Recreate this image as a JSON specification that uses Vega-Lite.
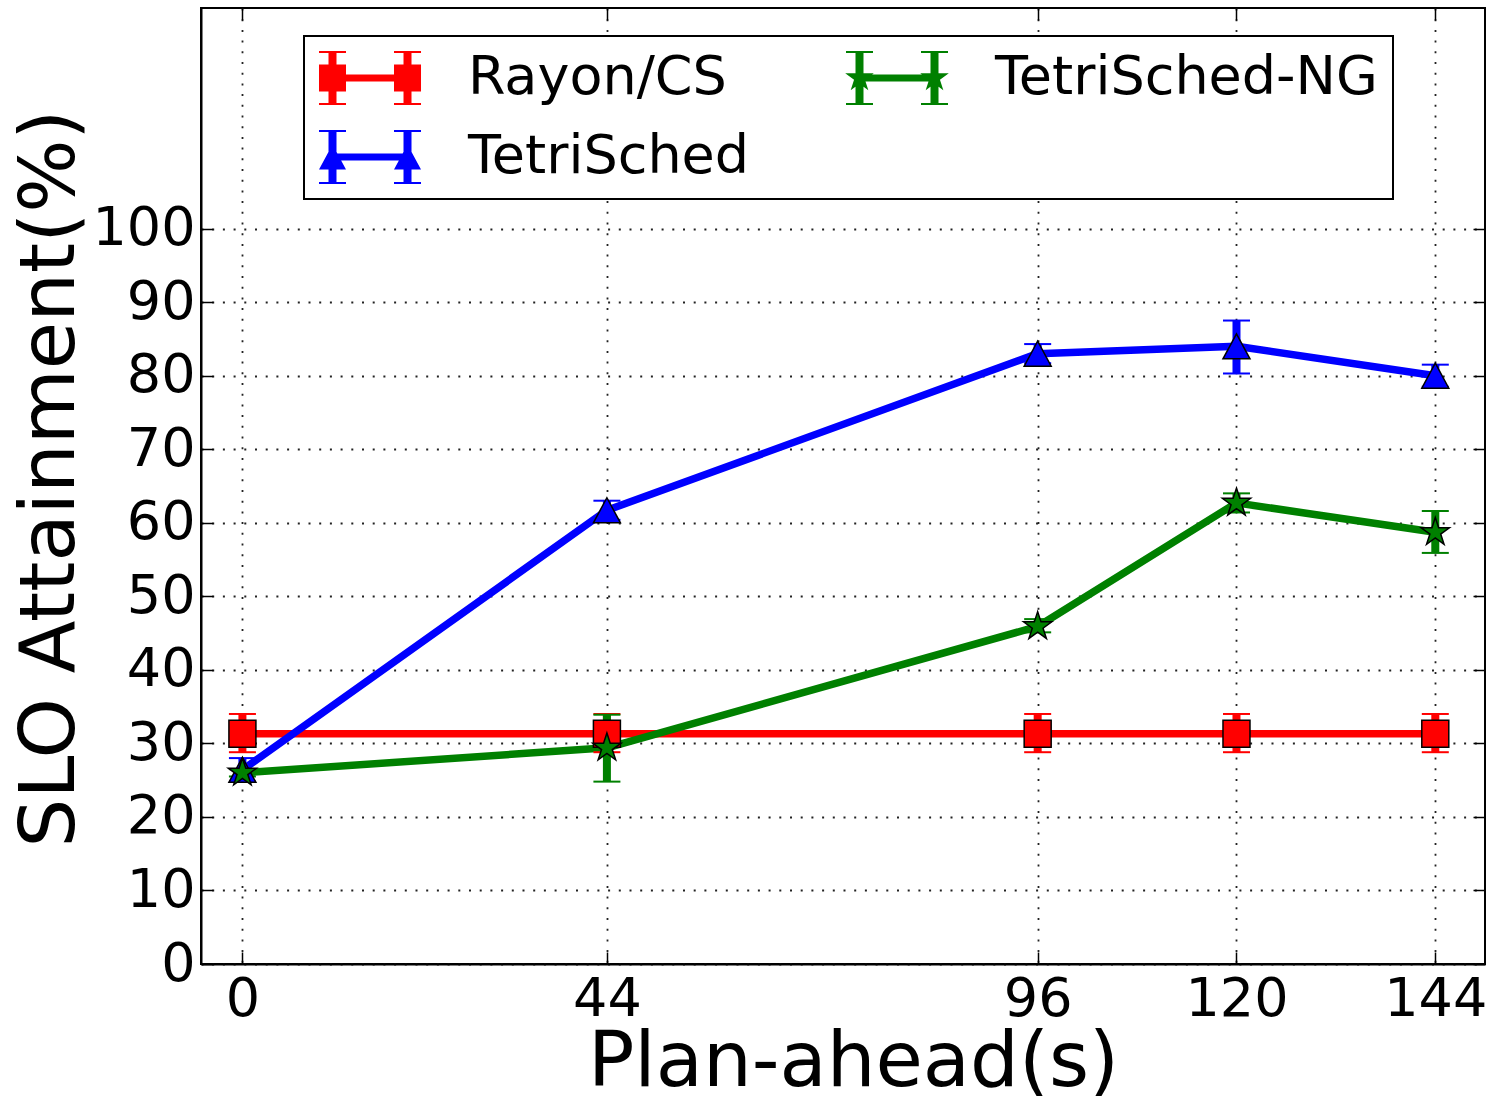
{
  "$schema": "https://vega.github.io/schema/vega-lite/v6.json",
  "width": 1284,
  "height": 956,
  "autosize": "none",
  "padding": {"left": 201, "top": 8, "right": 12, "bottom": 132},
  "background": "white",
  "config": {
    "view": {"stroke": "black", "strokeWidth": 2},
    "legend": {"symbolOpacity": 1, "strokeWidth": 2},
    "axis": {
      "labelFont": "DejaVu Sans", "labelFontSize": 54, "labelColor": "black",
      "titleFont": "DejaVu Sans", "titleFontSize": 77, "titleFontWeight": "normal", "titleColor": "black",
      "domainColor": "black", "domainWidth": 2,
      "tickColor": "black", "tickWidth": 1.5, "tickSize": -12,
      "gridColor": "#222222", "gridDash": [2, 8.7], "gridWidth": 1.8, "gridOpacity": 1,
      "zindex": 1
    }
  },
  "data": {"values": [
    {"plan": 0, "series": "Rayon/CS", "v": 31.3, "lo": 28.8, "hi": 34.0},
    {"plan": 44, "series": "Rayon/CS", "v": 31.3, "lo": 28.8, "hi": 34.0},
    {"plan": 96, "series": "Rayon/CS", "v": 31.3, "lo": 28.8, "hi": 34.0},
    {"plan": 120, "series": "Rayon/CS", "v": 31.3, "lo": 28.8, "hi": 34.0},
    {"plan": 144, "series": "Rayon/CS", "v": 31.3, "lo": 28.8, "hi": 34.0},
    {"plan": 0, "series": "TetriSched", "v": 26.4, "lo": 24.8, "hi": 28.0},
    {"plan": 44, "series": "TetriSched", "v": 61.7, "lo": 60.4, "hi": 63.0},
    {"plan": 96, "series": "TetriSched", "v": 83.0, "lo": 81.7, "hi": 84.3},
    {"plan": 120, "series": "TetriSched", "v": 84.0, "lo": 80.3, "hi": 87.5},
    {"plan": 144, "series": "TetriSched", "v": 80.0, "lo": 78.5, "hi": 81.5},
    {"plan": 0, "series": "TetriSched-NG", "v": 26.0, "lo": 25.5, "hi": 26.5},
    {"plan": 44, "series": "TetriSched-NG", "v": 29.4, "lo": 24.8, "hi": 33.9},
    {"plan": 96, "series": "TetriSched-NG", "v": 45.9, "lo": 45.1, "hi": 46.9},
    {"plan": 120, "series": "TetriSched-NG", "v": 62.7, "lo": 61.4, "hi": 64.0},
    {"plan": 144, "series": "TetriSched-NG", "v": 58.7, "lo": 55.9, "hi": 61.6}
  ]},
  "resolve": {"axis": {"x": "independent", "y": "independent"}},
  "layer": [
    {
      "mark": {"type": "line", "strokeWidth": 7.5, "strokeJoin": "round"},
      "encoding": {
        "x": {"field": "plan", "type": "quantitative",
              "scale": {"domain": [-5, 150], "nice": false, "zero": false},
              "axis": {"orient": "bottom", "values": [0, 44, 96, 120, 144], "title": "Plan-ahead(s)",
                       "labelPadding": 20, "titleBaseline": "alphabetic", "titleY": 121, "titleX": 652}},
        "y": {"field": "v", "type": "quantitative",
              "scale": {"domain": [0, 130], "nice": false, "zero": false},
              "axis": {"orient": "left", "values": [0, 10, 20, 30, 40, 50, 60, 70, 80, 90, 100], "title": "SLO Attainment(%)",
                       "labelPadding": 18, "titleBaseline": "alphabetic", "titleX": -128, "titleY": 470, "titleAngle": 270}},
        "stroke": {"field": "series", "type": "nominal",
                   "scale": {"domain": ["TetriSched", "Rayon/CS", "TetriSched-NG"], "range": ["#0000ff", "#ff0000", "#008000"]},
                   "legend": null}
      }
    },
    {
      "mark": {"type": "rule", "strokeWidth": 8},
      "encoding": {
        "x": {"field": "plan", "type": "quantitative",
              "axis": {"orient": "top", "values": [0, 44, 96, 120, 144], "labels": false, "grid": false, "domain": false, "title": null}},
        "y": {"field": "lo", "type": "quantitative",
              "axis": {"orient": "right", "values": [0, 10, 20, 30, 40, 50, 60, 70, 80, 90, 100], "labels": false, "grid": false, "domain": false, "title": null}},
        "y2": {"field": "hi"},
        "stroke": {"field": "series", "type": "nominal", "legend": null}
      }
    },
    {
      "mark": {"type": "tick", "orient": "horizontal", "size": 27, "thickness": 2, "filled": true, "opacity": 1},
      "encoding": {
        "x": {"field": "plan", "type": "quantitative", "axis": null},
        "y": {"field": "lo", "type": "quantitative", "axis": null},
        "color": {"field": "series", "type": "nominal",
                  "scale": {"domain": ["Rayon/CS", "TetriSched", "TetriSched-NG"], "range": ["#ff0000", "#0000ff", "#008000"]}}
      }
    },
    {
      "mark": {"type": "tick", "orient": "horizontal", "size": 27, "thickness": 2, "filled": true, "opacity": 1},
      "encoding": {
        "x": {"field": "plan", "type": "quantitative", "axis": null},
        "y": {"field": "hi", "type": "quantitative", "axis": null},
        "color": {"field": "series", "type": "nominal"}
      }
    },
    {
      "transform": [{"filter": "datum.series === 'Rayon/CS'"}],
      "mark": {"type": "point", "filled": true, "size": 729, "stroke": "black", "strokeWidth": 1.5, "opacity": 1,
               "shape": "M-1,-1H1V1H-1Z"},
      "encoding": {
        "x": {"field": "plan", "type": "quantitative", "axis": null},
        "y": {"field": "v", "type": "quantitative", "axis": null},
        "color": {"field": "series", "type": "nominal"}
      }
    },
    {
      "transform": [{"filter": "datum.series === 'TetriSched'"}],
      "mark": {"type": "point", "filled": true, "size": 729, "stroke": "black", "strokeWidth": 1.5, "opacity": 1,
               "shape": "M0,-0.926L1,0.926H-1Z"},
      "encoding": {
        "x": {"field": "plan", "type": "quantitative", "axis": null},
        "y": {"field": "v", "type": "quantitative", "axis": null},
        "color": {"field": "series", "type": "nominal"}
      }
    },
    {
      "transform": [{"filter": "datum.series === 'TetriSched-NG'"}],
      "mark": {"type": "point", "filled": true, "size": 729, "stroke": "black", "strokeWidth": 1.5, "opacity": 1,
               "shape": "M0,-1.1L0.247,-0.34L1.046,-0.34L0.399,0.13L0.647,0.89L0,0.42L-0.647,0.89L-0.399,0.13L-1.046,-0.34L-0.247,-0.34Z"},
      "encoding": {
        "x": {"field": "plan", "type": "quantitative", "axis": null},
        "y": {"field": "v", "type": "quantitative", "axis": null},
        "color": {"field": "series", "type": "nominal"}
      }
    },
    {
      "mark": {"type": "point", "filled": true, "size": 729, "opacity": 0},
      "encoding": {
        "x": {"field": "plan", "type": "quantitative", "axis": null},
        "y": {"field": "v", "type": "quantitative", "axis": null},
        "color": {"field": "series", "type": "nominal",
                  "legend": {
                    "title": null, "orient": "none", "legendX": 103, "legendY": 28,
                    "columns": 2, "gridAlign": "each", "columnPadding": 95, "rowPadding": 25, "padding": 15,
                    "symbolSize": 2916, "symbolStrokeWidth": 0, "symbolOpacity": 1,
                    "labelFont": "DejaVu Sans", "labelFontSize": 54, "labelColor": "black", "labelLimit": 2000, "labelOffset": 95,
                    "strokeColor": "black", "fillColor": "white", "zindex": 2
                  }},
        "shape": {"field": "series", "type": "nominal",
                  "scale": {"domain": ["Rayon/CS", "TetriSched", "TetriSched-NG"], "range": [
                    "M-0.5,-0.13H2.278V0.13H-0.5Z M-0.648,-1H-0.352V1H-0.648Z M2.13,-1H2.426V1H2.13Z M-1,-1H0V-0.926H-1Z M-1,0.926H0V1H-1Z M1.778,-1H2.778V-0.926H1.778Z M1.778,0.926H2.778V1H1.778Z M-1,-0.5H0V0.5H-1Z M1.778,-0.5H2.778V0.5H1.778Z",
                    "M-0.5,-0.13H2.278V0.13H-0.5Z M-0.648,-1H-0.352V1H-0.648Z M2.13,-1H2.426V1H2.13Z M-1,-1H0V-0.926H-1Z M-1,0.926H0V1H-1Z M1.778,-1H2.778V-0.926H1.778Z M1.778,0.926H2.778V1H1.778Z M-0.5,-0.463L0,0.463H-1Z M2.278,-0.463L2.778,0.463H1.778Z",
                    "M-0.5,-0.13H2.278V0.13H-0.5Z M-0.648,-1H-0.352V1H-0.648Z M2.13,-1H2.426V1H2.13Z M-1,-1H0V-0.926H-1Z M-1,0.926H0V1H-1Z M1.778,-1H2.778V-0.926H1.778Z M1.778,0.926H2.778V1H1.778Z M-0.5,-0.556L-0.375,-0.172L0.029,-0.172L-0.298,0.066L-0.173,0.45L-0.5,0.212L-0.827,0.45L-0.702,0.066L-1.029,-0.172L-0.625,-0.172Z M2.278,-0.556L2.403,-0.172L2.807,-0.172L2.48,0.066L2.605,0.45L2.278,0.212L1.951,0.45L2.076,0.066L1.749,-0.172L2.153,-0.172Z"
                  ]},
                  "legend": {
                    "title": null, "orient": "none", "legendX": 103, "legendY": 28,
                    "columns": 2, "gridAlign": "each", "columnPadding": 95, "rowPadding": 25, "padding": 15,
                    "symbolSize": 2916, "symbolStrokeWidth": 0, "symbolOpacity": 1,
                    "labelFont": "DejaVu Sans", "labelFontSize": 54, "labelColor": "black", "labelLimit": 2000, "labelOffset": 95,
                    "strokeColor": "black", "fillColor": "white", "zindex": 2
                  }}
      }
    }
  ]
}
